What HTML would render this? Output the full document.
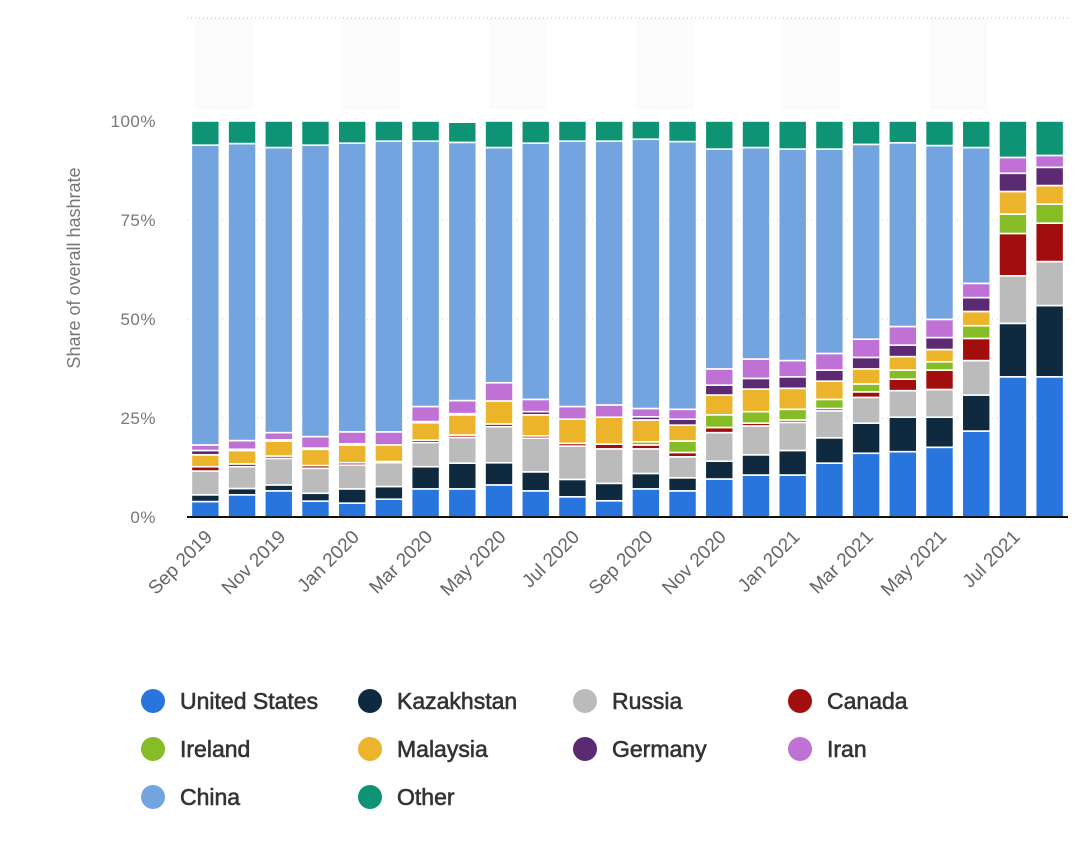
<!DOCTYPE html>
<html><head><meta charset="utf-8"><style>
body{margin:0;background:#fff;width:1083px;height:839px;overflow:hidden;font-family:"Liberation Sans",sans-serif}
svg text{font-family:"Liberation Sans",sans-serif}
</style></head><body>
<svg id="chart" width="1083" height="839" xmlns="http://www.w3.org/2000/svg">
<g id="bands"></g>
<line x1="187" y1="18" x2="1068" y2="18" stroke="#bbb" stroke-dasharray="1,3"/>
<g id="grid"></g><g id="bars"></g>
<line x1="187" y1="517" x2="1068" y2="517" stroke="#111" stroke-width="2"/>
<g id="yticks"></g><g id="xticks"></g>
<text transform="translate(80,268) rotate(-90)" text-anchor="middle" font-size="18" fill="#777">Share of overall hashrate</text>
<g id="legend"></g>
</svg>
<script>
const months=["Sep 2019","Oct 2019","Nov 2019","Dec 2019","Jan 2020","Feb 2020","Mar 2020","Apr 2020","May 2020","Jun 2020","Jul 2020","Aug 2020","Sep 2020","Oct 2020","Nov 2020","Dec 2020","Jan 2021","Feb 2021","Mar 2021","Apr 2021","May 2021","Jun 2021","Jul 2021","Aug 2021"];
const seriesNames=["United States","Kazakhstan","Russia","Canada","Ireland","Malaysia","Germany","Iran","China","Other"];
const seriesColors=["#2876dd","#0f2a3f","#bbbbbb","#a20e0e","#86bc25","#ecb42a","#5c2a72","#c071d6","#74a4df","#0e9474"];
const unitedStates=[3.9,5.6,6.6,4.0,3.5,4.5,7.1,7.1,8.1,6.6,5.1,4.1,7.1,6.6,9.6,10.6,10.6,13.6,16.1,16.5,17.6,21.7,35.4,35.4];
const kazakhstan=[1.7,1.6,1.5,2.0,3.6,3.2,5.6,6.5,5.6,4.8,4.4,4.4,3.9,3.3,4.5,5.1,6.2,6.4,7.6,8.7,7.6,9.1,13.5,18.0];
const russia=[6.0,5.5,6.7,6.3,6.0,6.0,6.1,6.5,9.1,8.5,8.4,8.7,6.2,5.3,7.2,7.3,7.1,6.8,6.5,6.7,7.0,8.7,12.0,11.1];
const canada=[1.1,0.7,0.6,0.7,0.6,0.3,0.6,0.6,0.7,0.6,0.7,1.2,1.0,1.1,1.3,0.7,0.6,0.6,1.4,2.9,4.9,5.6,10.7,9.7];
const ireland=[0,0,0,0,0,0,0,0,0,0,0,0,0.8,2.9,3.2,2.9,2.7,2.3,2.0,2.3,2.1,3.2,4.9,4.8];
const malaysia=[3.0,3.4,3.8,4.1,4.5,4.2,4.4,5.1,5.8,5.3,6.1,6.8,5.5,4.0,5.0,5.7,5.3,4.6,3.8,3.4,3.1,3.6,5.7,4.7];
const germany=[1.1,0.3,0.3,0.3,0.3,0,0.3,0.3,0,0.8,0,0,0.8,1.5,2.5,2.7,2.9,2.8,2.9,2.9,3.0,3.5,4.6,4.6];
const iran=[1.4,2.2,1.8,2.9,3.0,3.3,3.8,3.3,4.6,3.1,3.2,3.1,2.1,2.5,4.1,4.9,4.1,4.2,4.6,4.7,4.6,3.6,4.0,3.0];
const china=[75.7,75.0,72.0,73.6,72.9,73.4,67.0,65.2,59.4,64.7,67.0,66.6,68.0,67.6,55.5,53.4,53.4,51.6,49.2,46.4,43.9,34.3,0,0];
const other=[6.1,5.7,6.7,6.1,5.6,5.1,5.1,5.1,6.7,5.6,5.1,5.1,4.6,5.2,7.1,6.7,7.1,7.1,5.9,5.5,6.2,6.7,9.2,8.7];
const yTicks=[0,25,50,75,100];
const yTickLabels=["0%","25%","50%","75%","100%"];
const xLabelIdx=[0,2,4,6,8,10,12,14,16,18,20,22];

const series=[unitedStates,kazakhstan,russia,canada,ireland,malaysia,germany,iran,china,other];
const NS="http://www.w3.org/2000/svg";
const X0=187,X1=1068,Y0=517,Y100=121;
const step=(X1-X0)/months.length;
function xc(i){return X0+step*(i+0.5);}
function y(v){return Y0-(Y0-Y100)*v/100;}
function mk(tag,attrs,parent){const e=document.createElementNS(NS,tag);for(const k in attrs)e.setAttribute(k,attrs[k]);parent.appendChild(e);return e;}
const bands=document.getElementById('bands');
for(let i=0;i<months.length;i+=4){
 const b=mk('rect',{x:X0+step*(i+0.5)-10,y:18,width:step*2-16,height:92,fill:'#fbfbfb'},bands);
 
 
}
const grid=document.getElementById('grid'),yt=document.getElementById('yticks');
yTicks.forEach((t,k)=>{
 if(t>0&&t<100){const g=mk('line',{x1:X0,x2:X1,y1:y(t),y2:y(t),stroke:'#ccc','stroke-dasharray':'1,4'},grid);
 
 }
 const tx=mk('text',{x:156,y:y(t)+6,'text-anchor':'end','font-size':17,fill:'#777','letter-spacing':'0.5'},yt);
 tx.textContent=yTickLabels[k];
 
 
});
const bars=document.getElementById('bars');
months.forEach((m,i)=>{
 let cum=0;
 series.forEach((s,j)=>{
  const v=s[i];if(v<=0)return;
  const r=mk('rect',{x:xc(i)-14,y:y(cum+v),width:28,height:Math.max(0.5,y(cum)-y(cum+v)),fill:seriesColors[j],stroke:'#fff','stroke-width':1.6},bars);
  
  
  cum+=v;
 });
});
const xt=document.getElementById('xticks');
xLabelIdx.forEach(i=>{
 const t=mk('text',{transform:`translate(${xc(i)+8},${538}) rotate(-45)`,'text-anchor':'end','font-size':19,fill:'#666'},xt);
 t.textContent=months[i];
 
 
});
const lg=document.getElementById('legend');
const lx=[153,370,585,800],ly=[701,749,797];
seriesNames.forEach((n,k)=>{
 const r=Math.floor(k/4),c=k%4;
 const g=mk('g',{},lg);
 
 
 mk('circle',{cx:lx[c],cy:ly[r],r:12,fill:seriesColors[k]},g);
 const t=mk('text',{x:lx[c]+27,y:ly[r]+8,'font-size':23,fill:'#333',stroke:'#333','stroke-width':0.6},g);
 t.textContent=n;
});
</script>
</body></html>
